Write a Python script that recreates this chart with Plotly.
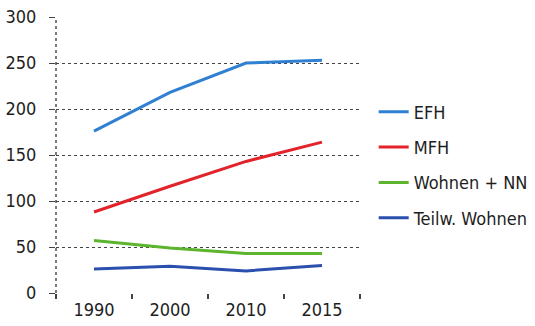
import plotly.graph_objects as go

years = ["1990", "2000", "2010", "2015"]
efh = [176, 218, 250, 253]
mfh = [88, 116, 143, 164]
wohnen_nn = [57, 49, 43, 43]
teilw_wohnen = [26, 29, 24, 30]

series = [
    ("EFH", efh, "#2f80d2"),
    ("MFH", mfh, "#e2232c"),
    ("Wohnen + NN", wohnen_nn, "#5db52f"),
    ("Teilw. Wohnen", teilw_wohnen, "#2b4fae"),
]

font_family = "DejaVu Sans Condensed, Liberation Sans Narrow, Arial Narrow, sans-serif"

fig = go.Figure()
for name, vals, color in series:
    fig.add_trace(go.Scatter(
        x=years, y=vals, name=name, mode="lines", legendgroup=name,
        line=dict(color=color, width=3),
    ))

fig.update_layout(
    width=535, height=326,
    margin=dict(l=56, r=175, t=17, b=33, autoexpand=False),
    paper_bgcolor="white", plot_bgcolor="white",
    font=dict(family=font_family, size=18, color="#1e1e1e"),
    showlegend=True,
    legend=dict(
        x=1.045, y=0.464, xanchor="left", yanchor="middle",
        font=dict(family=font_family, size=18, color="#1e1e1e"),
        tracegroupgap=9, itemwidth=30,
        bgcolor="rgba(0,0,0,0)",
    ),
)

fig.update_xaxes(
    type="category", range=[-0.5, 3.5], automargin=False,
    showgrid=False, showline=False, zeroline=False,
    ticks="outside", tickson="boundaries", ticklen=5, tickwidth=1.5,
    tickcolor="#444", ticklabelstandoff=4,
    tickfont=dict(family=font_family, size=18, color="#1e1e1e"),
)
fig.update_yaxes(
    range=[0, 300], tickvals=[0, 50, 100, 150, 200, 250, 300], automargin=False,
    showgrid=True, gridcolor="#444", griddash="dot", gridwidth=1.4,
    zeroline=False, showline=False,
    ticks="outside", ticklen=6, tickcolor="#444", tickwidth=1.4,
    ticklabelstandoff=9,
    tickfont=dict(family=font_family, size=18, color="#1e1e1e"),
)

# dotted left axis line
fig.add_shape(type="line", xref="paper", yref="paper", x0=0, x1=0, y0=0, y1=1,
              line=dict(color="#444", width=1.4, dash="dot"))

fig.write_html("out.html")
